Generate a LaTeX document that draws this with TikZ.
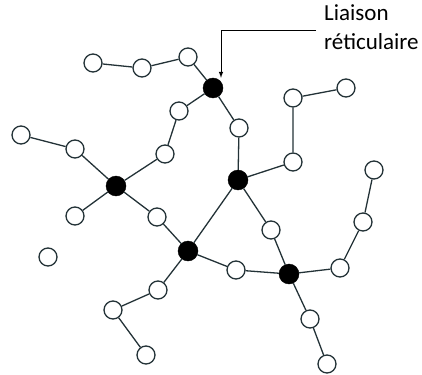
\documentclass[tikz,border=0pt]{standalone}
\usepackage{fontspec}
\setmainfont{Carlito}
\usepackage{xcolor}
\usepackage{tikz}
\definecolor{trait}{RGB}{35,50,55}

\begin{document}
\begin{tikzpicture}[x=1pt,y=-1pt,
  mono/.style={circle,draw=trait,line width=1.3pt,fill=white,minimum size=18pt,inner sep=0pt},
  noeud/.style={circle,fill=black,draw=black,minimum size=20pt,inner sep=0pt},
  lien/.style={draw=trait,line width=1.3pt}]
\useasboundingbox (0,0) rectangle (422,374);
% points de reticulation
\node [noeud] (p) at (213,88) {};
\node [noeud] (q) at (116,186) {};
\node [noeud] (r) at (238,180) {};
\node [noeud] (s) at (188,251) {};
\node [noeud] (t) at (289,274) {};
% chaines
\node [mono] (a) at (93,63) {};
\node [mono] (b) at (142,68) {};
\node [mono] (c) at (188,57) {};
\node [mono] (d) at (179,111) {};
\node [mono] (e) at (165,154) {};
\node [mono] (f) at (21,135) {};
\node [mono] (g) at (75,149) {};
\node [mono] (h) at (75,216) {};
\node [mono] (i) at (157,217) {};
\node [mono] (j) at (48,257) {};
\node [mono] (k) at (239,128) {};
\node [mono] (l) at (293,162) {};
\node [mono] (m) at (293,98) {};
\node [mono] (n) at (346,88) {};
\node [mono] (o) at (374,170) {};
\node [mono] (u) at (363,222) {};
\node [mono] (v) at (340,268) {};
\node [mono] (w) at (271,230) {};
\node [mono] (x) at (236,270) {};
\node [mono] (y) at (158,290) {};
\node [mono] (z) at (113,310) {};
\node [mono] (zz) at (146,355) {};
\node [mono] (l1) at (310,319) {};
\node [mono] (l2) at (327,364) {};

\draw [lien] (a) -- (b) -- (c) -- (p);
\draw [lien] (p) -- (d) -- (e) -- (q);
\draw [lien] (f) -- (g) -- (q);
\draw [lien] (q) -- (h);
\draw [lien] (q) -- (i) -- (s);
\draw [lien] (p) -- (k) -- (r);
\draw [lien] (r) -- (l) -- (m) -- (n);
\draw [lien] (r) -- (s);
\draw [lien] (r) -- (w) -- (t);
\draw [lien] (s) -- (x) -- (t);
\draw [lien] (s) -- (y) -- (z) -- (zz);
\draw [lien] (t) -- (v) -- (u) -- (o);
\draw [lien] (t) -- (l1) -- (l2);

% legende
\node [anchor=north west,align=left,inner sep=0pt,font=\fontsize{23}{29}\selectfont] (lbl) at (324,4) {Liaison\\r\'eticulaire};
\coordinate (coin) at (221,31);
\draw [-latex,line width=1pt,draw=black] (lbl.west |- coin) ++(-8,0) -- (coin) -- (p.north -| coin);
\end{tikzpicture}
\end{document}
